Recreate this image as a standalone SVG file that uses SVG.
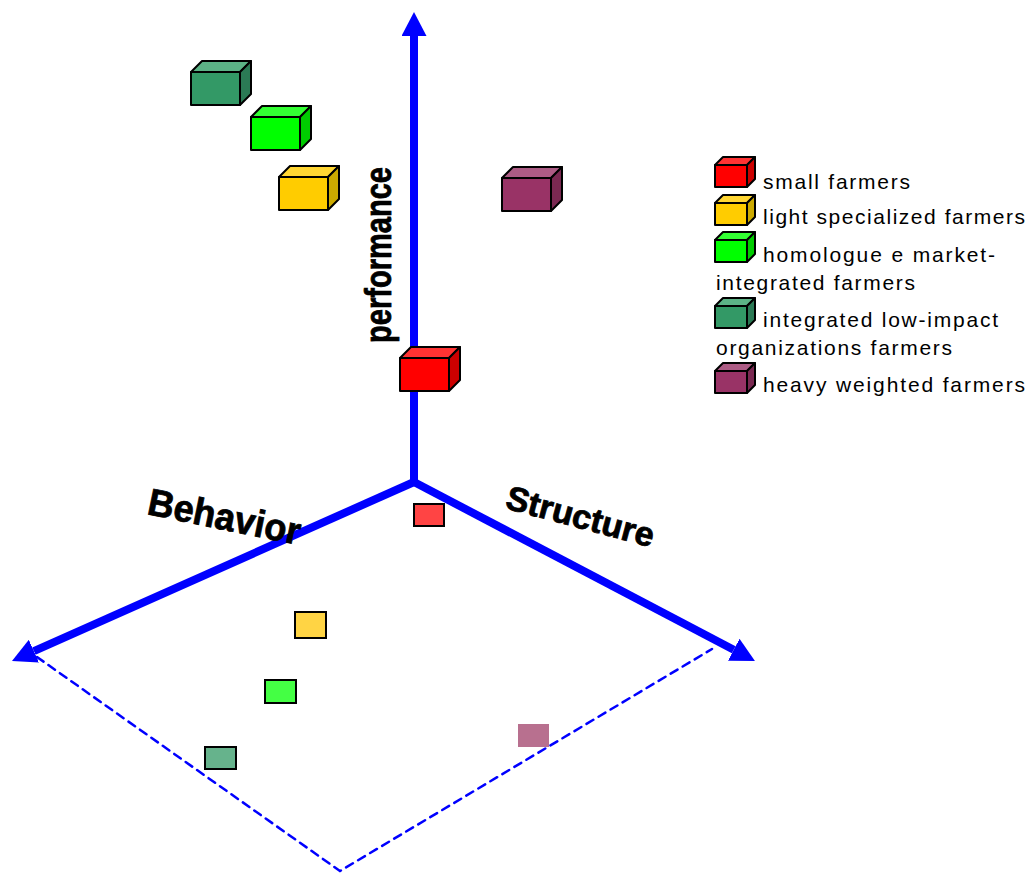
<svg xmlns="http://www.w3.org/2000/svg" width="1031" height="873" viewBox="0 0 1031 873">
<style>
.cube rect,.cube polygon{stroke:#000;stroke-width:2;stroke-linejoin:round}
.axis{stroke:#0000ff;stroke-width:8;fill:none}
.dash{stroke:#0000ff;stroke-width:2.5;fill:none;stroke-dasharray:8 6;stroke-linecap:round}
.lbl{font-family:"Liberation Sans",Arial,sans-serif;font-weight:bold;fill:#000;stroke:#000;stroke-width:0.8}
.leg{font-family:"Liberation Sans",Arial,sans-serif;font-size:21px;fill:#000}
.flat{stroke:#000;stroke-width:2}
</style>
<defs>
<marker id="ah" viewBox="0 -12.5 24 25" refX="0" refY="0" markerWidth="24" markerHeight="25" markerUnits="userSpaceOnUse" orient="auto">
<path d="M0,-12.5 L24,0 L0,12.5 z" fill="#0000ff"/>
</marker>
</defs>
<rect width="1031" height="873" fill="#fff"/>

<g id="connectors">
<line class="axis" x1="414" y1="482" x2="414" y2="36" marker-end="url(#ah)"/>
<line class="axis" x1="414" y1="482" x2="33.9" y2="651.2" marker-end="url(#ah)"/>
<line class="axis" x1="414" y1="482" x2="733.7" y2="649.8" marker-end="url(#ah)"/>
<polyline class="dash" points="37,657 340,871 712,649"/>
</g>

<g id="axis-labels">
<text class="lbl" font-size="36" textLength="176" lengthAdjust="spacingAndGlyphs" transform="translate(391,343) rotate(-90)">performance</text>
<text class="lbl" font-size="38" textLength="155" lengthAdjust="spacingAndGlyphs" transform="translate(146,514) rotate(11.5)">Behavior</text>
<text class="lbl" font-size="34" textLength="152" lengthAdjust="spacingAndGlyphs" transform="translate(504,508) rotate(15)">Structure</text>
</g>

<g id="cube-integrated" class="cube">
<polygon points="191,72 202,61 251,61 240,72" fill="#5cb386"/>
<polygon points="240,72 251,61 251,94 240,105" fill="#2b7a55"/>
<rect x="191" y="72" width="49" height="33" fill="#339966"/>
</g>
<g id="cube-homologue" class="cube">
<polygon points="251,117 262,106 311,106 300,117" fill="#33ff33"/>
<polygon points="300,117 311,106 311,139 300,150" fill="#00cc00"/>
<rect x="251" y="117" width="49" height="33" fill="#00ff00"/>
</g>
<g id="cube-light" class="cube">
<polygon points="279,177 290,166 339,166 328,177" fill="#ffd633"/>
<polygon points="328,177 339,166 339,199 328,210" fill="#ccaa00"/>
<rect x="279" y="177" width="49" height="33" fill="#ffcc00"/>
</g>
<g id="cube-heavy" class="cube">
<polygon points="502,178 513,167 562,167 551,178" fill="#ad5c85"/>
<polygon points="551,178 562,167 562,200 551,211" fill="#7a2952"/>
<rect x="502" y="178" width="49" height="33" fill="#993366"/>
</g>
<g id="cube-small" class="cube">
<polygon points="400,358 411,347 460,347 449,358" fill="#ff3333"/>
<polygon points="449,358 460,347 460,380 449,391" fill="#cc0000"/>
<rect x="400" y="358" width="49" height="33" fill="#ff0000"/>
</g>

<g id="proj-small"><rect class="flat" x="414" y="504" width="30" height="22" fill="#ff4444"/></g>
<g id="proj-light"><rect class="flat" x="295" y="612" width="31" height="26" fill="#ffd444"/></g>
<g id="proj-homologue"><rect class="flat" x="265" y="680" width="31" height="23" fill="#44ff44"/></g>
<g id="proj-integrated"><rect class="flat" x="205" y="747" width="31" height="22" fill="#66b38c"/></g>
<g id="proj-heavy"><rect x="518" y="724" width="31" height="23" fill="#b8708f"/></g>

<g id="legend">
<g class="cube">
<polygon points="715,165 723,157 755,157 747,165" fill="#ff3333"/>
<polygon points="747,165 755,157 755,179 747,187" fill="#cc0000"/>
<rect x="715" y="165" width="32" height="22" fill="#ff0000"/>
</g>
<text class="leg" x="763" y="189" textLength="147" lengthAdjust="spacing">small farmers</text>
<g class="cube">
<polygon points="715,203 723,195 755,195 747,203" fill="#ffd633"/>
<polygon points="747,203 755,195 755,217 747,225" fill="#ccaa00"/>
<rect x="715" y="203" width="32" height="22" fill="#ffcc00"/>
</g>
<text class="leg" x="763" y="224" textLength="262" lengthAdjust="spacing">light specialized farmers</text>
<g class="cube">
<polygon points="715,240 723,232 755,232 747,240" fill="#33ff33"/>
<polygon points="747,240 755,232 755,254 747,262" fill="#00cc00"/>
<rect x="715" y="240" width="32" height="22" fill="#00ff00"/>
</g>
<text class="leg" x="763" y="262" textLength="232" lengthAdjust="spacing">homologue e market-</text>
<text class="leg" x="716" y="290" textLength="199" lengthAdjust="spacing">integrated farmers</text>
<g class="cube">
<polygon points="715,306 723,298 755,298 747,306" fill="#5cb386"/>
<polygon points="747,306 755,298 755,320 747,328" fill="#2b7a55"/>
<rect x="715" y="306" width="32" height="22" fill="#339966"/>
</g>
<text class="leg" x="763" y="327" textLength="235" lengthAdjust="spacing">integrated low-impact</text>
<text class="leg" x="716" y="355" textLength="236" lengthAdjust="spacing">organizations farmers</text>
<g class="cube">
<polygon points="715,371 723,363 755,363 747,371" fill="#ad5c85"/>
<polygon points="747,371 755,363 755,385 747,393" fill="#7a2952"/>
<rect x="715" y="371" width="32" height="22" fill="#993366"/>
</g>
<text class="leg" x="763" y="392" textLength="262" lengthAdjust="spacing">heavy weighted farmers</text>
</g>
</svg>
